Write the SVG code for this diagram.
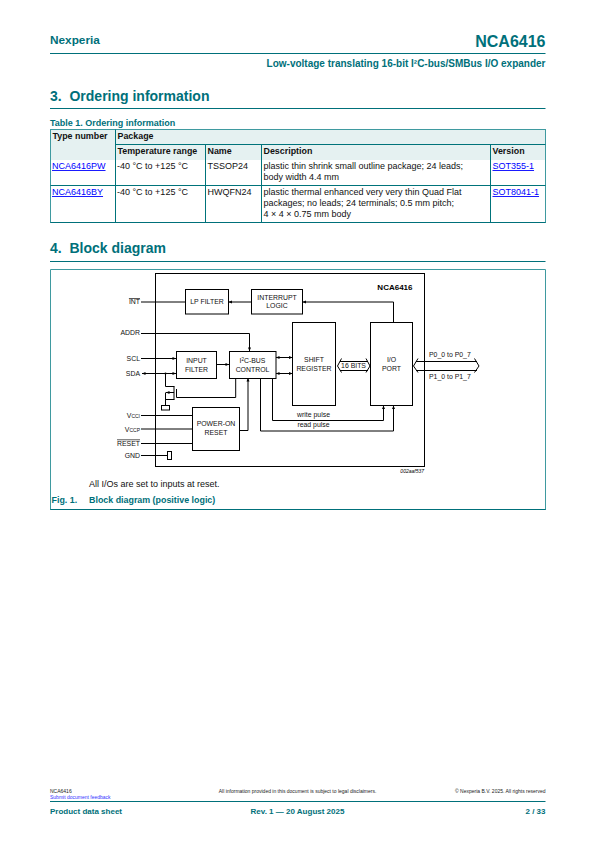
<svg xmlns="http://www.w3.org/2000/svg" width="595" height="842" viewBox="0 0 595 842">
<style>
text{font-family:"Liberation Sans",Arial,sans-serif;fill:#000}
.t{fill:#00707a;font-weight:bold}
.cell{font-size:9px;fill:#111}
.th{font-size:8.9px;font-weight:bold;fill:#111}
.link{font-size:9px;fill:#0000ff;text-decoration:underline}
.lb{font-size:6.9px;fill:#111}
.r{text-anchor:end}
.c{text-anchor:middle}
.f{font-size:5px;fill:#222}
.rule{stroke:#00707a;stroke-width:1;fill:none}
.in{stroke:#00737a;stroke-width:1;fill:none}
.out{stroke:#3f9aa0;stroke-width:1;fill:none}
.box{fill:#fff;stroke:#000;stroke-width:1}
.w{fill:none;stroke:#000;stroke-width:1}
.a{marker-end:url(#ar)}
.as{marker-start:url(#al)}
</style>
<defs>
<marker id="ar" markerUnits="userSpaceOnUse" markerWidth="4" markerHeight="4" refX="4" refY="2" orient="auto"><path d="M0.5 0.5L4 2L0.5 3.5z" fill="#000"/></marker>
<marker id="al" markerUnits="userSpaceOnUse" markerWidth="4" markerHeight="4" refX="0" refY="2" orient="auto"><path d="M3.5 0.5L0 2L3.5 3.5z" fill="#000"/></marker>
</defs>
<rect width="595" height="842" fill="#fff"/>

<g id="page-header">
<text class="t" x="50" y="44" font-size="11.8">Nexperia</text>
<text class="t r" x="545.5" y="47" font-size="16">NCA6416</text>
<path class="rule" d="M50 53.5H545.5"/>
<text class="t r" x="545.5" y="67" font-size="10">Low-voltage translating 16-bit I²C-bus/SMBus I/O expander</text>
<text class="t" x="50" y="101" font-size="14" xml:space="preserve">3.  Ordering information</text>
<path class="rule" d="M50 108.5H545.5"/>
<text class="t" x="50" y="126" font-size="9">Table 1. Ordering information</text>
</g>

<g id="ordering-table">
<rect x="50.5" y="129.5" width="495" height="30.5" fill="#e5f1f1"/>
<rect class="out" x="50.5" y="129.5" width="495" height="93"/>
<path class="in" d="M115.5 129.5V222.5M205.5 144.5V222.5M261.5 144.5V222.5M490.5 144.5V222.5M115.5 144.5H545.5M50.5 185.5H545.5"/>
<path class="rule" d="M50.5 222.5H545.5"/>
<text class="th" x="52.5" y="139">Type number</text>
<text class="th" x="117.5" y="139">Package</text>
<text class="th" x="117.5" y="154">Temperature range</text>
<text class="th" x="207.5" y="154">Name</text>
<text class="th" x="263.5" y="154">Description</text>
<text class="th" x="492.5" y="154">Version</text>
<text class="link" x="52" y="169">NCA6416PW</text>
<text class="cell" x="117" y="169">-40 °C to +125 °C</text>
<text class="cell" x="207.5" y="169">TSSOP24</text>
<text class="cell" x="263.5" y="169">plastic thin shrink small outline package; 24 leads;</text>
<text class="cell" x="263.5" y="180">body width 4.4 mm</text>
<text class="link" x="492.5" y="169">SOT355-1</text>
<text class="link" x="52" y="195">NCA6416BY</text>
<text class="cell" x="117" y="195">-40 °C to +125 °C</text>
<text class="cell" x="207.5" y="195">HWQFN24</text>
<text class="cell" x="263.5" y="195">plastic thermal enhanced very very thin Quad Flat</text>
<text class="cell" x="263.5" y="206">packages; no leads; 24 terminals; 0.5 mm pitch;</text>
<text class="cell" x="263.5" y="217">4 × 4 × 0.75 mm body</text>
<text class="link" x="492.5" y="195">SOT8041-1</text>
</g>

<g id="block-heading">
<text class="t" x="50" y="253" font-size="14" xml:space="preserve">4.  Block diagram</text>
<path class="rule" d="M50 261.5H545.5"/>
</g>

<g id="figure-frame">
<path class="out" d="M50.5 510V269.5H545.5V510"/>
<path class="rule" d="M50.5 509.5H545.5"/>
<text class="cell" x="89" y="487">All I/Os are set to inputs at reset.</text>
<text class="t" x="51.5" y="503" font-size="8.9">Fig. 1.</text>
<text class="t" x="89" y="503" font-size="8.9">Block diagram (positive logic)</text>
</g>

<g id="device-outline">
<rect class="w" x="155.5" y="273.5" width="269" height="193"/>
<text x="412.5" y="290" class="r" font-size="8" font-weight="bold" fill="#111">NCA6416</text>
<text x="424" y="473" class="r" font-size="5" font-style="italic" fill="#444">002aaf537</text>
</g>

<g id="connectors">
<path class="w" d="M141 302H185.5"/>
<path class="w a" d="M251.5 302H228.5"/>
<path class="w a" d="M393.5 322.5V302H302.5"/>
<path class="w a" d="M141 333.5H249.5V351"/>
<path class="w a" d="M141 358.5H176"/>
<path class="w as a" d="M142 373.5H176"/>
<path class="w a" d="M216 364.5H229"/>
<path class="w as a" d="M276 357.5H292.5"/>
<path class="w as a" d="M276 373.5H292.5"/>
<path class="w" d="M165.5 373.5V386.5H174.5M165.5 399.5H174.5M165.5 392.5V405"/>
<path class="w" d="M174 386.5V399.5M176.5 389V397.5H235.7V378"/>
<path class="w a" d="M174 392.5H166"/>
<circle cx="165.5" cy="373.5" r="1" fill="#000"/>
<path class="w" d="M141 415.5H192.5M141 429H192.5M141 443.5H192.5M141 455.5H168"/>
<path class="w a" d="M239.5 430.5H248V378"/>
<path class="w a" d="M272.5 378V420.5H383.5V405.5"/>
<path class="w a" d="M260.5 378V431H393.5V405.5"/>
<path class="w" d="M337.5 366L341.5 358.5M337.5 366L341.5 372.5M370 366L366 358.5M370 366L366 372.5M340 361.5H368M340 370.5H368"/>
<path class="w" d="M413.5 366L418 358.5M413.5 366L418 372.5M479 366L474.5 358.5M479 366L474.5 372.5M416 361.5H477M416 370.5H477"/>
</g>

<g id="n-lp-filter"><rect class="box" x="185.5" y="289.5" width="43" height="24.5"/><text class="lb c" x="207" y="304">LP FILTER</text></g>
<g id="n-interrupt-logic"><rect class="box" x="251.5" y="289.5" width="51" height="24.5"/><text class="lb c" x="277" y="299.5">INTERRUPT</text><text class="lb c" x="277" y="308">LOGIC</text></g>
<g id="n-input-filter"><rect class="box" x="176.5" y="351.5" width="40" height="27"/><text class="lb c" x="196.5" y="362.5">INPUT</text><text class="lb c" x="196.5" y="371.5">FILTER</text></g>
<g id="n-i2c-control"><rect class="box" x="229.5" y="351.5" width="46.5" height="27"/><text class="lb c" x="252.5" y="362.5">I<tspan font-size="4.5" dy="-2">2</tspan><tspan dy="2">C-BUS</tspan></text><text class="lb c" x="252.5" y="371.5">CONTROL</text></g>
<g id="n-shift-register"><rect class="box" x="292.5" y="322.5" width="43" height="83"/><text class="lb c" x="314" y="362">SHIFT</text><text class="lb c" x="314" y="370.5">REGISTER</text></g>
<g id="n-io-port"><rect class="box" x="370.5" y="322.5" width="42" height="83"/><text class="lb c" x="391.5" y="362">I/O</text><text class="lb c" x="391.5" y="370.5">PORT</text></g>
<g id="n-power-on-reset"><rect class="box" x="192.5" y="407.5" width="47" height="43"/><text class="lb c" x="216" y="426">POWER-ON</text><text class="lb c" x="216" y="434.5">RESET</text></g>
<g id="n-gnd-pad"><rect class="box" x="167.5" y="451.5" width="4" height="8"/></g>
<g id="n-sda-pad"><rect class="box" x="161.5" y="405.5" width="8" height="4.5"/></g>

<g id="labels">
<text class="lb r" x="140" y="304" text-decoration="overline">INT</text>
<text class="lb r" x="140" y="335">ADDR</text>
<text class="lb r" x="140" y="360.5">SCL</text>
<text class="lb r" x="140" y="376">SDA</text>
<text class="lb r" x="140" y="417.5">V<tspan font-size="5" dy="0.6">CCI</tspan></text>
<text class="lb r" x="140" y="431.5">V<tspan font-size="5" dy="0.6">CCP</tspan></text>
<text class="lb r" x="140" y="445.5" text-decoration="overline">RESET</text>
<text class="lb r" x="140" y="457.5">GND</text>
<text class="lb c" x="353.5" y="368.3">16 BITS</text>
<text class="lb" x="429" y="356.5">P0_0 to P0_7</text>
<text class="lb" x="429" y="379">P1_0 to P1_7</text>
<text class="lb c" x="313.5" y="416.5">write pulse</text>
<text class="lb c" x="313.5" y="426.5">read pulse</text>
</g>

<g id="page-footer">
<text class="f" x="50" y="793">NCA6416</text>
<text class="f" x="50" y="798.5" style="fill:#3333ff">Submit document feedback</text>
<text class="f c" x="297.5" y="793">All information provided in this document is subject to legal disclaimers.</text>
<text class="f r" x="545.5" y="793">© Nexperia B.V. 2025. All rights reserved</text>
<path class="rule" d="M50 801.5H545.5"/>
<text class="t" x="50" y="814" font-size="8">Product data sheet</text>
<text class="t c" x="297.5" y="814" font-size="8">Rev. 1 — 20 August 2025</text>
<text class="t r" x="545.5" y="814" font-size="8">2 / 33</text>
</g>
</svg>
